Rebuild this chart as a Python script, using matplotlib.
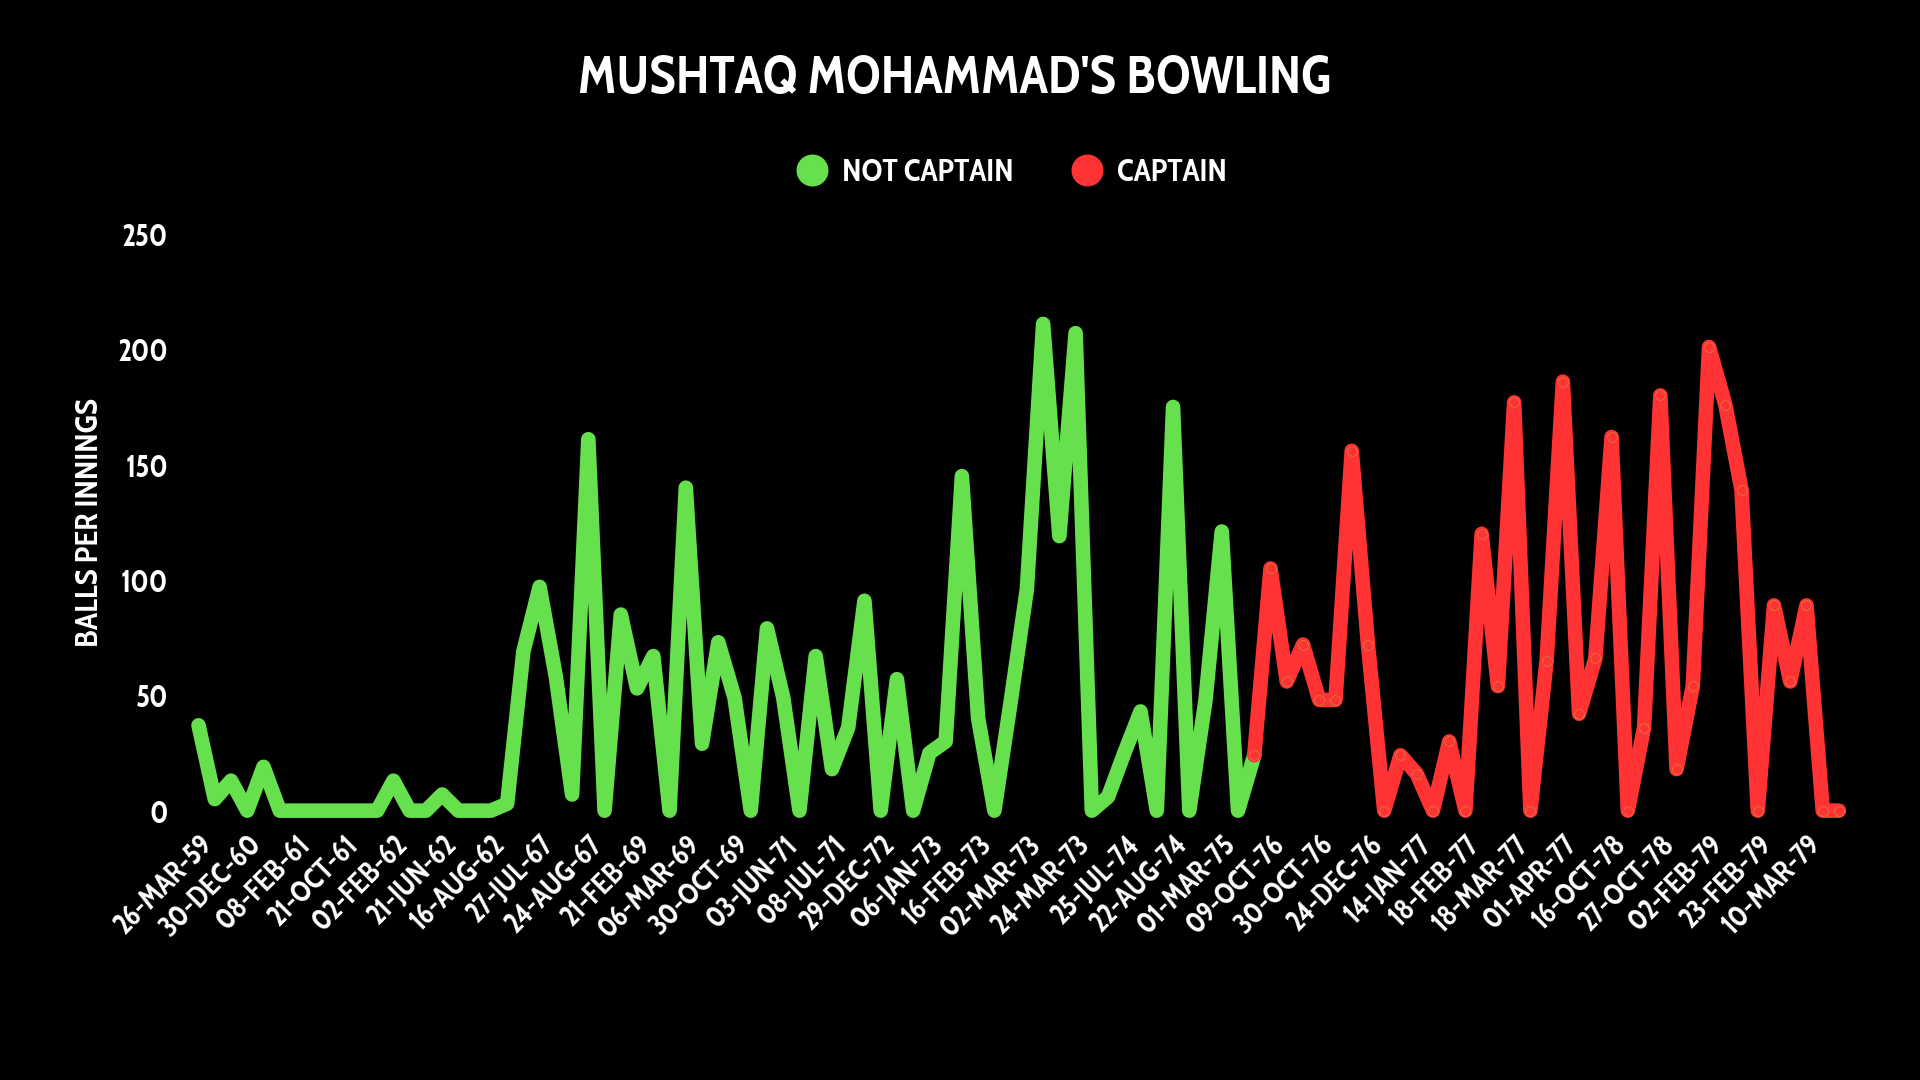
import matplotlib
matplotlib.use("Agg")
import matplotlib.pyplot as plt
from matplotlib.lines import Line2D

# balls bowled per innings, in order (0 = did not bowl)
balls = [
    37, 5, 13, 0, 19, 0, 0, 0, 0, 0, 0, 0, 13, 0, 0, 7, 0, 0, 0, 3,
    69, 97, 58, 7, 161, 0, 85, 53, 67, 0, 140, 29, 73, 49, 0, 79, 49, 0, 67, 18,
    36, 91, 0, 57, 0, 25, 30, 145, 40, 0, 47, 96, 211, 119, 207, 0, 6, 25, 43, 0,
    175, 0, 48, 121, 0, 24, 105, 56, 72, 48, 48, 156, 72, 0, 24, 16, 0, 30, 0, 120,
    54, 177, 0, 65, 186, 42, 66, 162, 0, 36, 180, 18, 54, 201, 176, 139, 0, 89, 56, 89,
    0, 0,
]
first_captain_innings = 65

# every third innings gets a date label
tick_labels = [
    "26-MAR-59", "30-DEC-60", "08-FEB-61", "21-OCT-61", "02-FEB-62", "21-JUN-62",
    "16-AUG-62", "27-JUL-67", "24-AUG-67", "21-FEB-69", "06-MAR-69", "30-OCT-69",
    "03-JUN-71", "08-JUL-71", "29-DEC-72", "06-JAN-73", "16-FEB-73", "02-MAR-73",
    "24-MAR-73", "25-JUL-74", "22-AUG-74", "01-MAR-75", "09-OCT-76", "30-OCT-76",
    "24-DEC-76", "14-JAN-77", "18-FEB-77", "18-MAR-77", "01-APR-77", "16-OCT-78",
    "27-OCT-78", "02-FEB-79", "23-FEB-79", "10-MAR-79",
]
y_ticks = [0, 50, 100, 150, 200, 250]

GREEN = "#67e04e"
RED = "#ff3333"
FONT = dict(family=["Cabin Condensed", "DejaVu Sans"], weight="bold")

fig = plt.figure(figsize=(19.2, 10.8), dpi=100, facecolor="black")
ax = fig.add_axes([0.1034, 0.2494, 0.8544, 0.534], facecolor="black")

x = list(range(len(balls)))
k = first_captain_innings
ax.plot(x[:k + 1], balls[:k + 1], color=GREEN, lw=10.5,
        solid_joinstyle="round", solid_capstyle="round", clip_on=False)
ax.plot(x[k:], balls[k:], color=RED, lw=10.5,
        solid_joinstyle="round", solid_capstyle="round", clip_on=False,
        marker="o", ms=7, mfc=RED, mec="#d0853c", mew=0.5)

ax.set_xlim(0, len(balls) - 1)
ax.set_ylim(0, 250)
ax.set_xticks(x[::3])
ax.set_xticklabels(tick_labels, rotation=45, ha="right", va="top",
                   rotation_mode="anchor", color="white", fontsize=21, **FONT)
ax.set_yticks(y_ticks)
ax.set_yticklabels([str(v) for v in y_ticks], color="white", fontsize=22, **FONT)
ax.tick_params(axis="both", length=0)
ax.tick_params(axis="y", pad=22)
ax.tick_params(axis="x", pad=14)
for s in ax.spines.values():
    s.set_visible(False)

ax.set_ylabel("BALLS PER INNINGS", color="white", fontsize=23, labelpad=8, **FONT)

fig.text(0.497, 0.926, "MUSHTAQ MOHAMMAD'S BOWLING", ha="center", va="center",
         color="white", fontsize=38, **FONT)

handles = [
    Line2D([], [], ls="none", marker="o", ms=22, color=GREEN, label="NOT CAPTAIN"),
    Line2D([], [], ls="none", marker="o", ms=22, color=RED, label="CAPTAIN"),
]
leg = fig.legend(handles=handles, loc="center", bbox_to_anchor=(0.526, 0.84), ncol=2,
                 frameon=False, handletextpad=0.35, columnspacing=1.7, handlelength=1.2,
                 prop=dict(size=23, **FONT))
for t in leg.get_texts():
    t.set_color("white")

fig.savefig("out.png", dpi=100, facecolor="black")
